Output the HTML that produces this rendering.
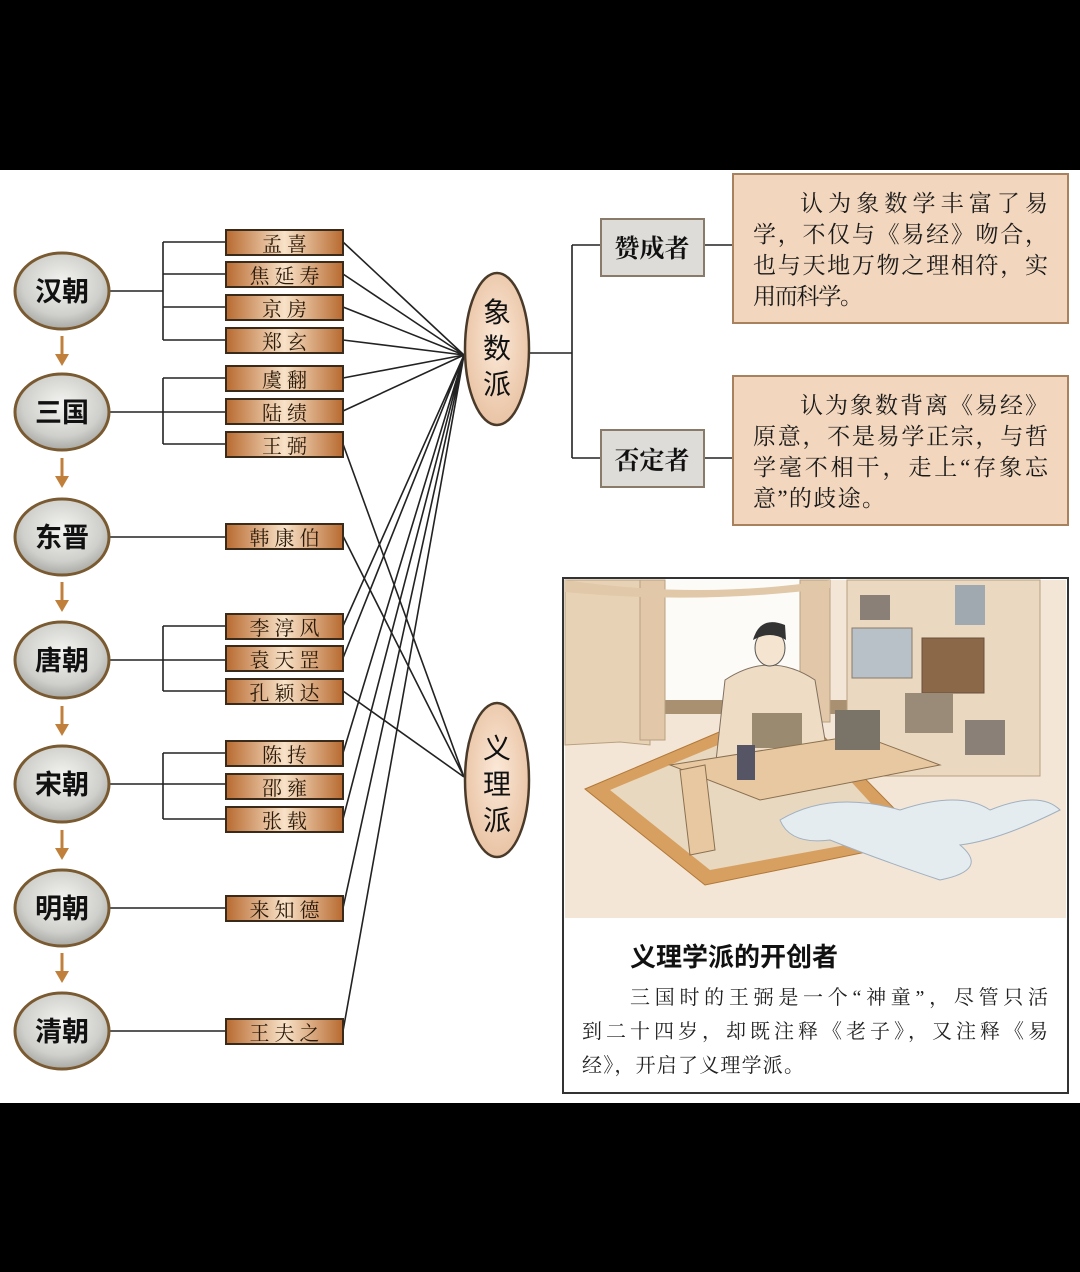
<!DOCTYPE html>
<html><head><meta charset="utf-8"><style>
html,body{margin:0;padding:0;background:#000;}
svg{display:block}
.s{font-family:"Liberation Serif","Noto Serif CJK SC",serif;}
.h{font-family:"Liberation Sans","Noto Sans CJK SC",sans-serif;font-weight:bold;}
</style></head><body>
<svg width="1080" height="1272" viewBox="0 0 1080 1272" xmlns="http://www.w3.org/2000/svg">
<defs>
<radialGradient id="gd" cx="50%" cy="40%" r="60%"><stop offset="0" stop-color="#f4f4f2"/><stop offset="0.7" stop-color="#cfcfcb"/><stop offset="1" stop-color="#a8a8a4"/></radialGradient>
<radialGradient id="ge" cx="50%" cy="45%" r="60%"><stop offset="0" stop-color="#fbe9d8"/><stop offset="1" stop-color="#e8c0a0"/></radialGradient>
<linearGradient id="gb" x1="0" x2="1" y1="0" y2="0"><stop offset="0" stop-color="#b86a30"/><stop offset="0.5" stop-color="#f8e2c8"/><stop offset="1" stop-color="#b86a30"/></linearGradient>
</defs>
<rect x="0" y="0" width="1080" height="1272" fill="#000"/>
<rect x="0" y="170" width="1080" height="933" fill="#fff"/>

<g stroke="#222" stroke-width="1.6" fill="none">
<path d="M110 291H163M163 242V340M163 242H226M163 274H226M163 307H226M163 340H226"/>
<path d="M110 412H226M163 378V444M163 378H226M163 444H226"/>
<path d="M110 537H226"/>
<path d="M110 660H226M163 626V691M163 626H226M163 691H226"/>
<path d="M110 784H226M163 753V819M163 753H226M163 819H226"/>
<path d="M110 908H226"/>
<path d="M110 1031H226"/>
<path d="M343 242L464 355M343 274L464 355M343 307L464 355M343 340L464 355M343 378L464 355M343 411L464 355M343 626L464 355M343 658L464 355M343 753L464 355M343 819L464 355M343 908L464 355M343 1031L464 355"/>
<path d="M343 444L464 777M343 536L464 777M343 691L464 777"/>
<path d="M530 353H572M572 245V458M572 245H601M572 458H601M704 245H733M704 458H733"/>
</g>

<g fill="#c0803c" stroke="#c0803c" stroke-width="3">
<line x1="62" y1="336" x2="62" y2="356"/><polygon points="55,354 69,354 62,366" stroke="none"/>
<line x1="62" y1="458" x2="62" y2="478"/><polygon points="55,476 69,476 62,488" stroke="none"/>
<line x1="62" y1="582" x2="62" y2="602"/><polygon points="55,600 69,600 62,612" stroke="none"/>
<line x1="62" y1="706" x2="62" y2="726"/><polygon points="55,724 69,724 62,736" stroke="none"/>
<line x1="62" y1="830" x2="62" y2="850"/><polygon points="55,848 69,848 62,860" stroke="none"/>
<line x1="62" y1="953" x2="62" y2="973"/><polygon points="55,971 69,971 62,983" stroke="none"/>
</g>

<g stroke="#7a5a30" stroke-width="3" fill="url(#gd)">
<ellipse cx="62" cy="291" rx="47" ry="38"/>
<ellipse cx="62" cy="412" rx="47" ry="38"/>
<ellipse cx="62" cy="537" rx="47" ry="38"/>
<ellipse cx="62" cy="660" rx="47" ry="38"/>
<ellipse cx="62" cy="784" rx="47" ry="38"/>
<ellipse cx="62" cy="908" rx="47" ry="38"/>
<ellipse cx="62" cy="1031" rx="47" ry="38"/>
</g>
<g class="h" font-size="27" fill="#111" text-anchor="middle">
<text x="62" y="301">汉朝</text><text x="62" y="422">三国</text><text x="62" y="547">东晋</text>
<text x="62" y="670">唐朝</text><text x="62" y="794">宋朝</text><text x="62" y="918">明朝</text><text x="62" y="1041">清朝</text>
</g>

<g stroke="#3a2a1a" stroke-width="2" fill="url(#gb)">
<rect x="226" y="230" width="117" height="25"/><rect x="226" y="262" width="117" height="25"/>
<rect x="226" y="295" width="117" height="25"/><rect x="226" y="328" width="117" height="25"/>
<rect x="226" y="366" width="117" height="25"/><rect x="226" y="399" width="117" height="25"/>
<rect x="226" y="432" width="117" height="25"/><rect x="226" y="524" width="117" height="25"/>
<rect x="226" y="614" width="117" height="25"/><rect x="226" y="646" width="117" height="25"/>
<rect x="226" y="679" width="117" height="25"/><rect x="226" y="741" width="117" height="25"/>
<rect x="226" y="774" width="117" height="25"/><rect x="226" y="807" width="117" height="25"/>
<rect x="226" y="896" width="117" height="25"/><rect x="226" y="1019" width="117" height="25"/>
</g>
<g class="s" font-size="20" fill="#2a1a0a" text-anchor="middle" letter-spacing="5">
<text x="287" y="251">孟喜</text><text x="287" y="283">焦延寿</text><text x="287" y="316">京房</text><text x="287" y="349">郑玄</text>
<text x="287" y="387">虞翻</text><text x="287" y="420">陆绩</text><text x="287" y="453">王弼</text><text x="287" y="545">韩康伯</text>
<text x="287" y="635">李淳风</text><text x="287" y="667">袁天罡</text><text x="287" y="700">孔颖达</text><text x="287" y="762">陈抟</text>
<text x="287" y="795">邵雍</text><text x="287" y="828">张载</text><text x="287" y="917">来知德</text><text x="287" y="1040">王夫之</text>
</g>

<g stroke="#4a3a2a" stroke-width="2.5" fill="url(#ge)">
<ellipse cx="497" cy="349" rx="32" ry="76"/>
<ellipse cx="497" cy="780" rx="32" ry="77"/>
</g>
<g font-family="'Liberation Sans','Noto Sans CJK SC',sans-serif" font-size="28" fill="#111" text-anchor="middle">
<text x="497" y="322">象</text><text x="497" y="358">数</text><text x="497" y="394">派</text>
<text x="497" y="758">义</text><text x="497" y="794">理</text><text x="497" y="830">派</text>
</g>

<g stroke="#8a7a6a" stroke-width="2" fill="#dedcd8">
<rect x="601" y="219" width="103" height="57"/><rect x="601" y="430" width="103" height="57"/>
</g>
<g class="s" font-size="25" font-weight="bold" fill="#111" text-anchor="middle">
<text x="652" y="257">赞成者</text><text x="652" y="469">否定者</text>
</g>
<g stroke="#a8825e" stroke-width="2" fill="#f2d6bd">
<rect x="733" y="174" width="335" height="149"/><rect x="733" y="376" width="335" height="149"/>
</g>
<g class="s" font-size="23" fill="#1a1a1a" lengthAdjust="spacing">
<text x="800" y="211" textLength="248">认为象数学丰富了易</text>
<text x="753" y="242" textLength="295">学，不仅与《易经》吻合，</text>
<text x="753" y="273" textLength="295">也与天地万物之理相符，实</text>
<text x="753" y="304" textLength="110">用而科学。</text>
<text x="800" y="413" textLength="248">认为象数背离《易经》</text>
<text x="753" y="444" textLength="295">原意，不是易学正宗，与哲</text>
<text x="753" y="475" textLength="295">学毫不相干，走上“存象忘</text>
<text x="753" y="506" textLength="132">意”的歧途。</text>
</g>

<rect x="563" y="578" width="505" height="515" fill="#fff" stroke="#333" stroke-width="2"/>
<g>
<rect x="565" y="580" width="501" height="338" fill="#f4e6d6"/>
<rect x="650" y="580" width="153" height="132" fill="#fdfbf7"/>
<rect x="650" y="700" width="200" height="14" fill="#a89070"/>
<path d="M565 580H650V745L620 742L565 745Z" fill="#e8d2b6" stroke="#b8a080"/>
<path d="M640 580H665V740H640Z" fill="#e2c8a8" stroke="#b8a080"/>
<path d="M800 580H830V722H800Z" fill="#e2c8a8" stroke="#b8a080"/>
<path d="M565 580Q700 600 830 580V588Q700 605 565 592Z" fill="#e0c8a8"/>
<rect x="847" y="580" width="193" height="196" fill="#ead8c0" stroke="#b8a080"/>
<rect x="852" y="628" width="60" height="50" fill="#b8c0c8" stroke="#8a7a6a"/>
<rect x="922" y="638" width="62" height="55" fill="#8a6848" stroke="#6a5040"/>
<rect x="905" y="693" width="48" height="40" fill="#9a8a78"/>
<rect x="965" y="720" width="40" height="35" fill="#8a8078"/>
<rect x="860" y="595" width="30" height="25" fill="#8a8078"/>
<rect x="955" y="585" width="30" height="40" fill="#a0a8b0"/>
<polygon points="585,789 790,702 925,840 705,885" fill="#d8a060" stroke="#b07838"/>
<polygon points="610,790 790,715 900,835 710,870" fill="#e8d8c0"/>
<path d="M725 680Q770 650 815 680L830 770Q770 790 715 770Z" fill="#eedcc4" stroke="#807060"/>
<ellipse cx="770" cy="648" rx="15" ry="18" fill="#f4e4d0" stroke="#555"/>
<path d="M753 640Q760 615 785 625L786 640Q770 630 753 640Z" fill="#333"/>
<rect x="752" y="713" width="50" height="35" fill="#9a8a70"/>
<polygon points="670,765 860,735 940,765 760,800" fill="#e8c8a0" stroke="#8a7050"/>
<polygon points="680,770 705,765 715,850 690,855" fill="#e8c8a0" stroke="#8a7050"/>
<rect x="737" y="745" width="18" height="35" fill="#556"/>
<rect x="835" y="710" width="45" height="40" fill="#7a7468"/>
<path d="M780 820Q830 790 900 810Q960 790 990 810Q1040 790 1060 810Q1000 840 960 845Q990 870 940 880Q880 860 830 840Q790 845 780 820Z" fill="#e4ecf0" stroke="#a0b0c0"/>
</g>
<text x="630" y="966" class="h" font-size="26" font-weight="normal" fill="#111">义理学派的开创者</text>
<g class="s" font-size="20" fill="#222" lengthAdjust="spacing">
<text x="630" y="1004" textLength="418">三国时的王弼是一个“神童”，尽管只活</text>
<text x="582" y="1038" textLength="466">到二十四岁，却既注释《老子》，又注释《易</text>
<text x="582" y="1072" textLength="222">经》，开启了义理学派。</text>
</g>
</svg>
</body></html>
